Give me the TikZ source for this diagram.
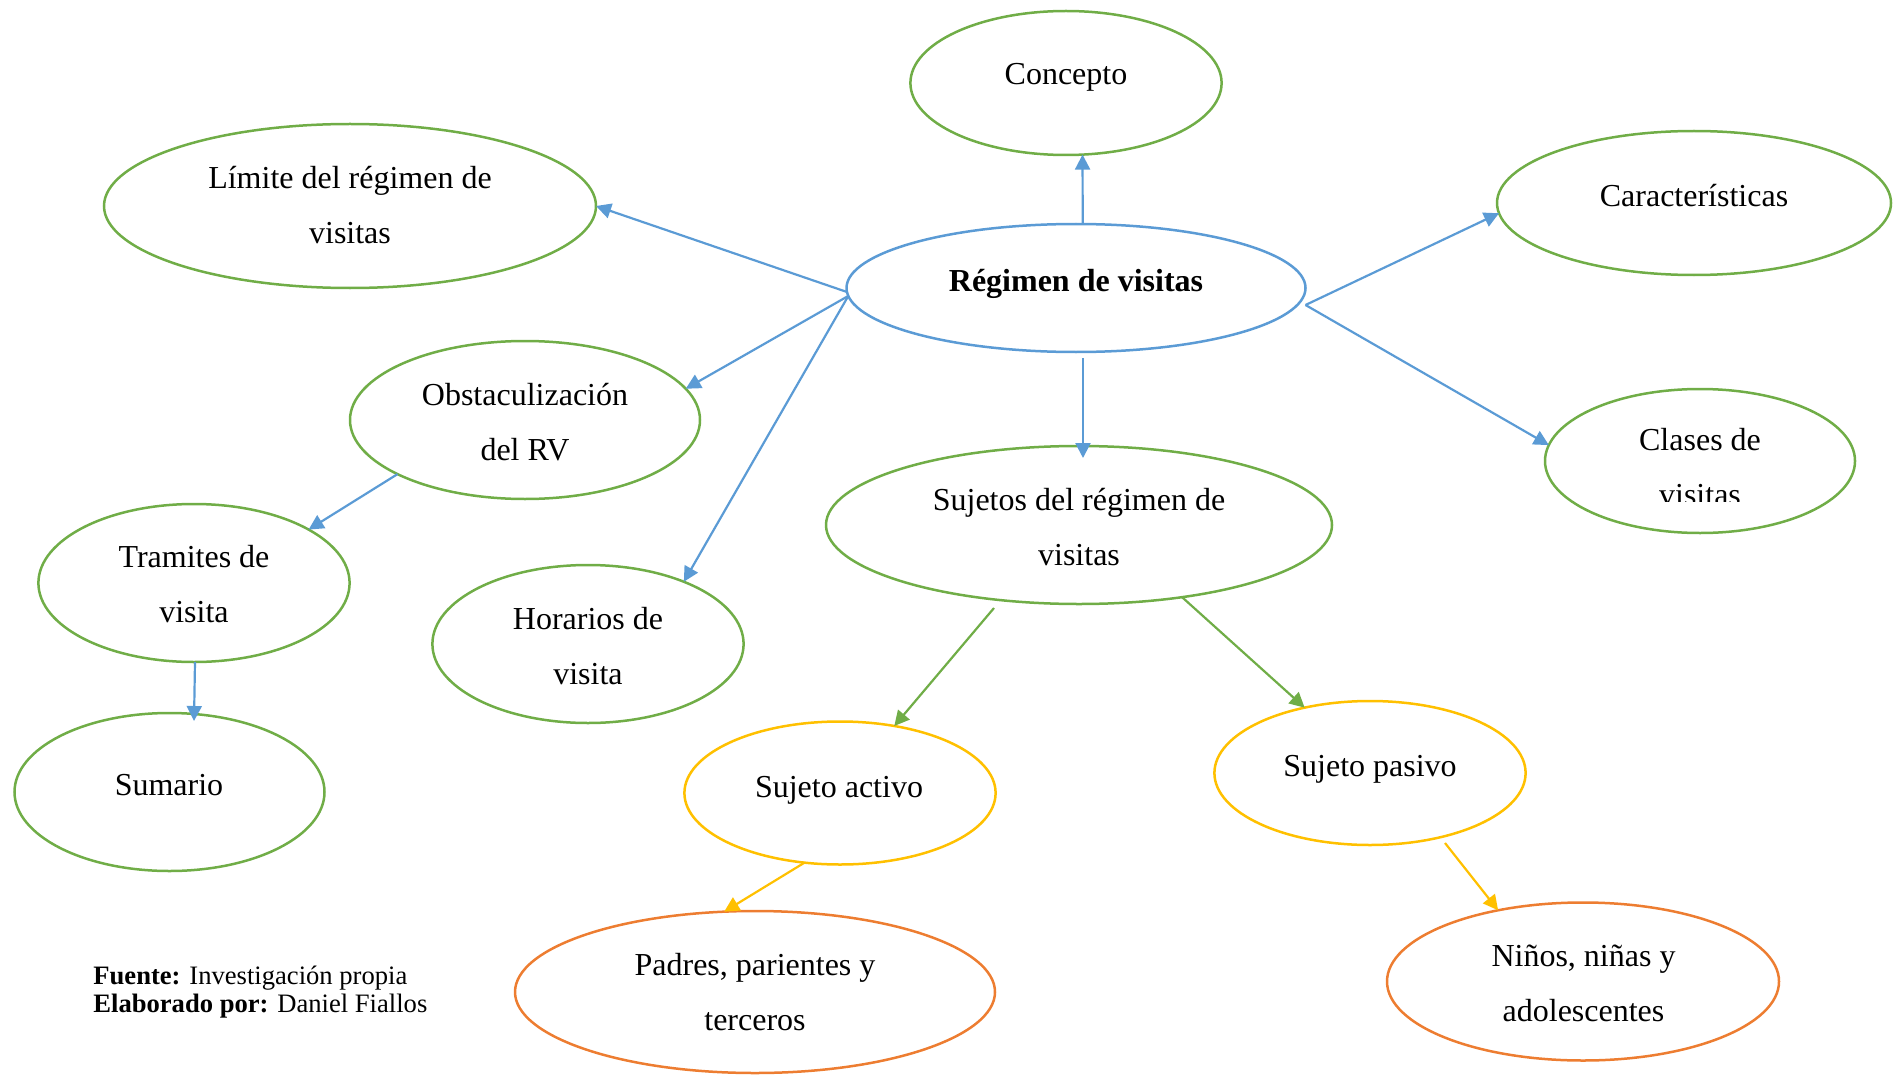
\documentclass[tikz,border=0pt]{standalone}
\usepackage{fontspec}
\setmainfont{Liberation Serif}
\usetikzlibrary{shapes.geometric,arrows.meta,calc}
\definecolor{cblue}{HTML}{5B9BD5}
\definecolor{cgreen}{HTML}{70AD47}
\definecolor{cyellow}{HTML}{FFC000}
\definecolor{corange}{HTML}{ED7D31}
\begin{document}
\begin{tikzpicture}[x=0.5pt,y=-0.5pt,
  ell/.style={ellipse, draw=#1, line width=1.25pt, inner sep=0pt, outer sep=0pt},
  txt/.style={font=\fontsize{16}{27.5}\selectfont, align=center, inner sep=0pt},
  one/.style={txt, text height=11pt, text depth=3.5pt},
  conn/.style={draw=#1, line width=1.1pt, -{Triangle[length=7.5pt,width=7.5pt]}}]
\useasboundingbox (0,0) rectangle (1899,1075);

% ellipses
\node[ell=cgreen, minimum width=155.6pt, minimum height=72pt] (con) at (1066,83) {};
\node[ell=cgreen, minimum width=246pt, minimum height=82pt] (lim) at (350,206) {};
\node[ell=cgreen, minimum width=197pt, minimum height=72pt] (car) at (1694,203) {};
\node[ell=cblue, minimum width=229.5pt, minimum height=64pt] (reg) at (1076,288) {};
\node[ell=cgreen, minimum width=175pt, minimum height=79pt] (obs) at (525,420) {};
\node[ell=cgreen, minimum width=155pt, minimum height=72pt] (cla) at (1700,461) {};
\node[ell=cgreen, minimum width=253pt, minimum height=79pt] (suj) at (1079,525) {};
\node[ell=cgreen, minimum width=155.6pt, minimum height=79pt] (tra) at (194,583) {};
\node[ell=cgreen, minimum width=155.6pt, minimum height=79pt] (hor) at (588,644) {};
\node[ell=cgreen, minimum width=155pt, minimum height=79pt] (sum) at (169.5,792) {};
\node[ell=cyellow, minimum width=155.6pt, minimum height=71.5pt] (act) at (840,793) {};
\node[ell=cyellow, minimum width=155.6pt, minimum height=72pt] (pas) at (1370,773) {};
\node[ell=corange, minimum width=240pt, minimum height=81pt] (pad) at (755,992) {};
\node[ell=corange, minimum width=196pt, minimum height=79pt] (nin) at (1583,981.5) {};

% texts
\node[one] (con-t) at (1066,77.5) {Concepto};
\node[txt] (lim-t) at (350,205.2) {Límite del régimen de\\visitas};
\node[one] (car-t) at (1694,198.5) {Características};
\node[one, font=\fontsize{16}{27.5}\selectfont\bfseries] (reg-t) at (1076,284.5) {Régimen de visitas};
\node[txt] (obs-t) at (525,422.2) {Obstaculización\\del RV};
\begin{scope}
\clip (1540,380) rectangle (1870,501);
\node[txt] (cla-t) at (1700,467) {Clases de\\visitas};
\end{scope}
\node[txt] (suj-t) at (1079,527.2) {Sujetos del régimen de\\visitas};
\node[txt] (tra-t) at (194,584.2) {Tramites de\\visita};
\node[txt] (hor-t) at (588,646.2) {Horarios de\\visita};
\node[one] (sum-t) at (169,787.5) {Sumario};
\node[one] (act-t) at (839,789.5) {Sujeto activo};
\node[one] (pas-t) at (1370,768.5) {Sujeto pasivo};
\node[txt] (pad-t) at (755,992.2) {Padres, parientes y\\terceros};
\node[txt] (nin-t) at (1583.5,983.2) {Niños, niñas y\\adolescentes};

% footer
\node[anchor=base west, inner sep=0pt, font=\fontsize{13.3}{15}\selectfont] (foot1) at (93,984) {\textbf{Fuente:} Investigación propia};
\node[anchor=base west, inner sep=0pt, font=\fontsize{13.3}{15}\selectfont] (foot2) at (93,1012.5) {\textbf{Elaborado por:} Daniel Fiallos};

% connectors
\draw[conn=cblue] (reg.84) -- (con.-77);
\draw[conn=cblue] (reg.181) -- (lim.east);
\draw[conn=cblue] (reg.182) -- (obs.11);
\draw[conn=cblue] (reg.182) -- (hor.33);
\draw[conn=cblue] ($(reg.east)+(0,17)$) -- (car.183);
\draw[conn=cblue] ($(reg.east)+(0,17)$) -- (cla.174);
\draw[conn=cblue] ($(reg.south)+(7,6)$) -- ($(suj.north)+(4,12)$);
\draw[conn=cblue] (obs.203) -- (tra.25);
\draw[conn=cblue] ($(tra.south)+(1,0)$) -- ($(sum.north)+(24.5,8)$);
\draw[conn=cgreen] ($(suj.south)+(-85,4)$) -- (act.51);
\draw[conn=cgreen] (suj.-35) -- (pas.135);
\draw[conn=cyellow] (act.-117) -- (pad.111);
\draw[conn=cyellow] ($(pas.center)+(75,70)$) -- (nin.140);
\end{tikzpicture}
\end{document}
